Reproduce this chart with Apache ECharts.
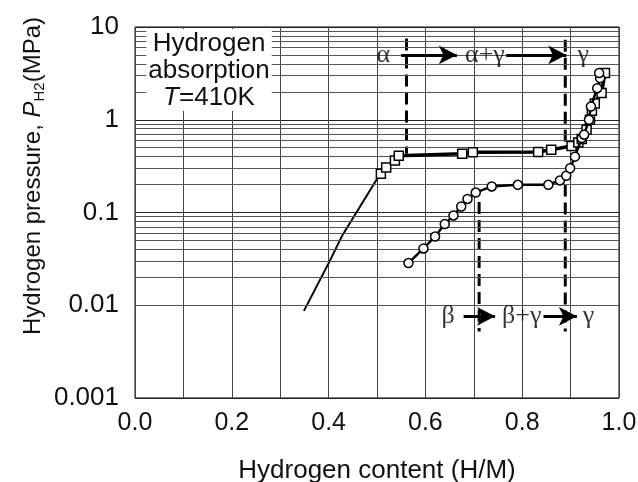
<!DOCTYPE html>
<html>
<head>
<meta charset="utf-8">
<script src="https://cdn.jsdelivr.net/npm/echarts@6/dist/echarts.min.js"></script>
<style>
  html, body { margin: 0; padding: 0; background: #fff; }
  #chart { width: 638px; height: 482px; }
</style>
</head>
<body>
<div id="chart"></div>
<script>
// x tick labels and y decade labels
const xTicks = ['0.0', '0.2', '0.4', '0.6', '0.8', '1.0'];
const yTicks = ['0.001', '0.01', '0.1', '1', '10'];

// unmarked low-pressure part of the absorption curve
const tailX = [0.349, 0.402, 0.427, 0.499];
const tailY = [0.0087, 0.0297, 0.055, 0.225];

// square markers
const sqX = [0.508, 0.519, 0.537, 0.545, 0.676, 0.698, 0.833, 0.860, 0.902, 0.916, 0.923, 0.933, 0.940, 0.944, 0.950, 0.964, 0.971];
const sqY = [0.262, 0.306, 0.364, 0.409, 0.430, 0.445, 0.449, 0.475, 0.520, 0.570, 0.620, 0.780, 1.00, 1.25, 1.50, 1.94, 3.20];

// circle markers
const ciX = [0.565, 0.596, 0.620, 0.640, 0.658, 0.674, 0.687, 0.704, 0.737, 0.791, 0.854, 0.878, 0.891, 0.899, 0.909, 0.923, 0.928, 0.938, 0.942, 0.955, 0.961, 0.959];
const ciY = [0.0285, 0.041, 0.055, 0.075, 0.093, 0.116, 0.140, 0.164, 0.191, 0.199, 0.199, 0.222, 0.249, 0.30, 0.40, 0.635, 0.69, 1.00, 1.39, 2.19, 2.81, 3.19];

// phase boundaries (dashed verticals): x, top, bottom
const dashX = [0.561, 0.889, 0.711, 0.889];
const dashTop = [7.5, 7.3, 0.13, 0.2];
const dashBot = [0.43, 0.52, 0.0052, 0.0052];

// arrows: from, to, level
const arrowFrom = [0.550, 0.767, 0.679, 0.844];
const arrowTo = [0.665, 0.891, 0.744, 0.913];
const arrowY = [5.0, 5.0, 0.0076, 0.0076];

// phase labels
const phaseText = ['α', 'α+γ', 'γ', 'β', 'β+γ', 'γ'];
const phaseX = [0.513, 0.723, 0.926, 0.647, 0.799, 0.937];
const phaseY = [5.0, 5.0, 5.0, 0.0076, 0.0076, 0.0076];

const zip = (xs, ys) => xs.map((x, i) => [x, ys[i]]);

// log paper minor lines (2..9 in every decade)
const minorLines = [];
[0.001, 0.01, 0.1, 1].forEach(d => {
  for (let m = 2; m <= 9; m++) minorLines.push({ yAxis: +(d * m).toPrecision(3) });
});

const sans = 'Liberation Sans, Arial, sans-serif';
const serif = 'Liberation Serif, Times New Roman, serif';

let chart = echarts.init(document.getElementById('chart'));

const dashSeries = dashX.map((x, i) => ({
  type: 'line',
  data: [[x, dashTop[i]], [x, dashBot[i]]],
  symbol: 'none',
  silent: true,
  z: 3,
  lineStyle: { color: '#000', width: 3, type: [12, 6] }
}));

chart.setOption({
  animation: false,
  backgroundColor: '#fff',
  grid: {
    left: 135, right: 19, top: 27, bottom: 84, outerBoundsMode: 'none',
    show: true, borderColor: '#000', borderWidth: 1
  },
  xAxis: {
    type: 'value', min: 0, max: 1, interval: 0.1,
    name: 'Hydrogen content (H/M)', nameLocation: 'middle', nameGap: 60,
    nameTextStyle: { fontFamily: sans, fontSize: 26, color: '#111' },
    axisLine: { show: false }, axisTick: { show: false },
    axisLabel: {
      margin: 13, fontFamily: sans, fontSize: 25, color: '#111',
      formatter: v => {
        const k = Math.round(v * 10);
        return k % 2 === 0 ? xTicks[k / 2] : '';
      }
    },
    splitLine: { show: true, lineStyle: { color: '#444', width: 1 } }
  },
  yAxis: {
    type: 'log', logBase: 10, min: 0.001, max: 10,
    axisLine: { show: false }, axisTick: { show: false },
    axisLabel: {
      margin: 16, fontFamily: sans, fontSize: 26, color: '#111',
      formatter: v => yTicks[Math.round(Math.log10(v)) + 3]
    },
    splitLine: { show: true, lineStyle: { color: '#222', width: 1 } }
  },
  graphic: [
    {
      type: 'text', x: 33, y: 176, rotation: Math.PI / 2, z: 100,
      style: {
        text: 'Hydrogen pressure, {i|P}{s|H2}(MPa)',
        align: 'center', verticalAlign: 'middle',
        font: '24px ' + sans, fill: '#111',
        rich: {
          i: { fontStyle: 'italic', fontSize: 24, fontFamily: sans, lineHeight: 28 },
          s: { fontSize: 15, fontFamily: sans, lineHeight: 14, verticalAlign: 'bottom' }
        }
      }
    },
    {
      type: 'text', x: 209, y: 29, z: 100,
      style: {
        text: 'Hydrogen\nabsorption\n{i|T}=410K',
        align: 'center', verticalAlign: 'top',
        font: '26px ' + sans, fill: '#111', lineHeight: 27,
        backgroundColor: '#fff', padding: [1, 2, 0, 2],
        rich: {
          i: { fontStyle: 'italic', fontSize: 26, fontFamily: sans, lineHeight: 27 }
        }
      }
    }
  ],
  series: [
    {
      type: 'line', data: [], silent: true, symbol: 'none',
      markLine: {
        silent: true, symbol: 'none', label: { show: false },
        lineStyle: { color: '#555', width: 1, type: 'solid' },
        data: minorLines
      }
    },
    {
      type: 'line', data: zip(tailX, tailY).concat([[sqX[0], sqY[0]]]),
      symbol: 'none', lineStyle: { color: '#000', width: 2 }, z: 4
    },
    {
      type: 'line', data: zip(sqX, sqY),
      symbol: 'rect', symbolSize: 9, showAllSymbol: true,
      itemStyle: { color: '#fff', borderColor: '#000', borderWidth: 1.5 },
      lineStyle: { color: '#000', width: 3.5 }, z: 5
    },
    {
      type: 'line', data: zip(ciX, ciY),
      symbol: 'circle', symbolSize: 9, showAllSymbol: true,
      itemStyle: { color: '#fff', borderColor: '#000', borderWidth: 1.5 },
      lineStyle: { color: '#000', width: 2.5 }, z: 6
    },
    ...dashSeries,
    {
      type: 'line', data: [], silent: true, symbol: 'none',
      markLine: {
        silent: true, symbol: ['none', 'arrow'], symbolSize: [14, 18],
        label: { show: false },
        lineStyle: { color: '#000', width: 3, type: 'solid' },
        data: arrowFrom.map((x, i) => [{ coord: [x, arrowY[i]] }, { coord: [arrowTo[i], arrowY[i]] }])
      },
      z: 7
    },
    {
      type: 'scatter', symbolSize: 0, silent: true, z: 8,
      data: phaseText.map((t, i) => ({ name: t, value: [phaseX[i], phaseY[i]] })),
      label: {
        show: true, position: 'inside', formatter: p => p.name,
        fontFamily: serif, fontSize: 26, color: '#000'
      }
    }
  ]
});
</script>
</body>
</html>
